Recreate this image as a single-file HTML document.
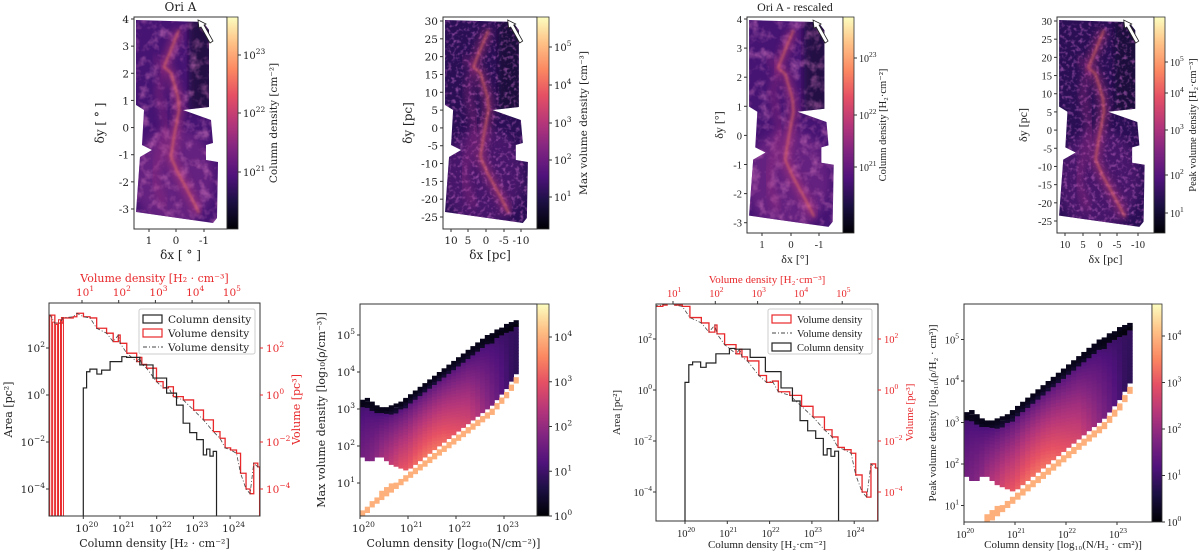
<!DOCTYPE html>
<html><head><meta charset="utf-8">
<style>
html,body{margin:0;padding:0;background:#fff;}
svg{display:block;}
.s1{font-family:"DejaVu Serif","Liberation Serif",serif;}
.s2{font-family:"Liberation Serif","DejaVu Serif",serif;}
</style></head>
<body>
<svg id="fig" width="1200" height="554" viewBox="0 0 1200 554" xmlns="http://www.w3.org/2000/svg">
<defs>
<linearGradient id="magma" x1="0" y1="1" x2="0" y2="0">
<stop offset="0" stop-color="#000004"/><stop offset="0.13" stop-color="#1c1044"/><stop offset="0.25" stop-color="#4f127b"/><stop offset="0.38" stop-color="#812581"/><stop offset="0.5" stop-color="#b5367a"/><stop offset="0.63" stop-color="#e55064"/><stop offset="0.75" stop-color="#fb8761"/><stop offset="0.88" stop-color="#fec287"/><stop offset="1" stop-color="#fcfdbf"/>
</linearGradient>
<filter id="blur1"><feGaussianBlur stdDeviation="1.2"/></filter>
<filter id="blur2"><feGaussianBlur stdDeviation="4"/></filter>
<filter id="noiseA" x="0" y="0" width="100%" height="100%"><feTurbulence type="fractalNoise" baseFrequency="0.1" numOctaves="3" seed="3"/><feColorMatrix type="matrix" values="0 0 0 0 0.62  0 0 0 0 0.17  0 0 0 0 0.49  0 0 0 2.4 -1.1"/></filter>
<filter id="noiseB" x="0" y="0" width="100%" height="100%"><feTurbulence type="fractalNoise" baseFrequency="0.25" numOctaves="2" seed="7"/><feColorMatrix type="matrix" values="0 0 0 0 0.48  0 0 0 0 0.12  0 0 0 0 0.5  0 0 0 3.0 -1.45"/></filter>
</defs>
</svg>
<script>
// ---------- data ----------
const colLogN = [20.0,20.0,20.09,20.18,20.37,20.5,20.73,21.05,21.18,21.54,21.9,22.27,22.54,22.72,22.9,23.09,23.27,23.36,23.45,23.54,23.63];
const colLogArea = [-6,0.3,0.99,1.1,0.89,1.06,1.42,1.63,1.6,1.28,0.72,0.08,-0.43,-1.2,-1.6,-1.9,-2.55,-2.3,-2.6,-2.4,-2.55];
const volLogRho = [0.1,0.13,0.26,0.4,0.48,0.76,0.86,1.04,1.22,1.4,1.67,1.85,1.99,2.04,2.22,2.49,2.58,2.63,2.76,3.03,3.21,3.35,3.49,3.76,4.04,4.31,4.58,4.76,4.9,5.05,5.21,5.32,5.47,5.58,5.68,5.79,5.84];
const volLogVol = [3.4,3.4,3.06,3.06,3.28,3.33,3.48,3.33,3.28,2.84,2.63,2.27,2.55,2.2,1.78,1.42,1.6,1.3,1.14,0.57,0.3,0.35,-0.07,-0.21,-0.64,-1.06,-1.56,-1.84,-2.25,-2.34,-2.48,-3.33,-4.0,-4.2,-2.9,-3.06,-3.06];
const spikeRho = [0.12,0.2,0.28,0.36,0.44];
const spikeVol = [3.4,3.1,3.0,3.2,3.3];
const hN =       [20.0,20.1,20.2,20.3,20.4,20.5,20.6,20.7,20.8,20.9,21.0,21.1,21.2,21.3,21.4,21.5,21.6,21.7,21.8,21.9,22.0,22.1,22.2,22.3,22.4,22.5,22.6,22.7,22.8,22.9,23.0,23.1,23.2];
const hBodyLow = [1.7,1.6,1.6,1.7,1.7,1.6,1.5,1.45,1.4,1.35,1.4,1.5,1.6,1.7,1.8,1.9,2.0,2.1,2.2,2.3,2.4,2.5,2.6,2.7,2.8,2.9,3.0,3.1,3.25,3.4,3.55,3.75,3.95];
const hBodyHigh= [3.15,3.2,3.1,3.0,2.95,2.95,3.0,3.05,3.1,3.2,3.3,3.4,3.5,3.6,3.7,3.8,3.9,4.0,4.1,4.2,4.3,4.4,4.5,4.6,4.7,4.8,4.9,4.95,5.05,5.1,5.2,5.25,5.3];
const hLineLow = [0.1,0.2,0.35,0.45,0.55,0.65,0.75,0.85,0.95,1.05,1.15,1.25,1.35,1.45,1.55,1.65,1.75,1.85,1.95,2.05,2.15,2.25,2.35,2.45,2.55,2.65,2.75,2.85,3.0,3.15,3.3,3.5,3.7];
const hPeak =    [1.6,1.7,1.8,1.9,2.1,2.3,2.5,2.7,2.9,3.0,3.1,3.2,3.25,3.3,3.3,3.3,3.25,3.2,3.1,3.0,2.9,2.8,2.7,2.5,2.3,2.1,1.9,1.7,1.5,1.3,1.1,0.9,0.8];
const cbTicks = [0,1,2,3,4];
const histTicksY = [2,0,-2,-4];
const histTicksN = [20,21,22,23,24];
const histTicksRho = [1,2,3,4,5];
const heatTicksN = [20,21,22,23];
const heatTicksRho = [1,2,3,4,5];

// ---------- helpers ----------
const NS='http://www.w3.org/2000/svg';
const svg=document.getElementById('fig');
function mk(tag,at,parent){const e=document.createElementNS(NS,tag);for(const k in at)e.setAttribute(k,at[k]);(parent||svg).appendChild(e);return e;}
function txt(x,y,s,opts,parent){
  const t=mk('text',Object.assign({x:x,y:y,'font-size':11,fill:'#222'},opts||{}),parent);
  t.textContent=s;return t;}
function pow10(x,y,e,opts,parent){
  const t=mk('text',Object.assign({x:x,y:y,'font-size':10.5,fill:'#222'},opts||{}),parent);
  const a=mk('tspan',{},t);a.textContent='10';
  const b=mk('tspan',{dy:-5,'font-size':7.5},t);b.textContent=String(e).replace('-','−');
  return t;}
const stops=[[0,[0,0,4]],[0.13,[28,16,68]],[0.25,[79,18,123]],[0.38,[129,37,129]],[0.5,[181,54,122]],[0.63,[229,80,100]],[0.75,[251,135,97]],[0.88,[254,194,135]],[1,[252,253,191]]];
function magma(f){f=Math.max(0,Math.min(1,f));for(let i=1;i<stops.length;i++){if(f<=stops[i][0]){const a=stops[i-1],b=stops[i];const u=(f-a[0])/(b[0]-a[0]);const c=a[1].map((v,j)=>Math.round(v+(b[1][j]-v)*u));return 'rgb('+c.join(',')+')';}}return 'rgb(252,253,191)';}

// ---------- maps ----------
const mapPoly=[[2,3],[69,5],[75,13],[75,90],[49,93],[77,103],[79,126],[72,128],[72,143],[84,145],[83,201],[79,206],[2,195],[6,140],[18,133],[8,128],[10,93],[2,88]];
const ridge=[[45,13],[38,30],[30,50],[37,56],[44,80],[45,93],[40,120],[37,140],[44,156],[57,180],[65,196]];
const ridge2=[[20,40],[30,50],[25,75],[32,110],[20,160],[30,190]];
function drawMap(cfg){
  const g=mk('g',{class:cfg.font});
  
  
  const sx=cfg.w/93, sy=cfg.h/212;
  const pts=mapPoly.map(p=>(cfg.x+p[0]*sx)+','+(cfg.y+p[1]*sy)).join(' ');
  const cl=mk('clipPath',{id:'clip'+cfg.id},g);mk('polygon',{points:pts},cl);
  const body=mk('polygon',{points:pts,fill:cfg.base},g);
  
  
  const inner=mk('g',{'clip-path':'url(#clip'+cfg.id+')'},g);
  mk('ellipse',{cx:cfg.x+40*sx,cy:cfg.y+160*sy,rx:40*sx,ry:50*sy,fill:cfg.glow,opacity:0.6,filter:'url(#blur2)'},inner);
  mk('rect',{x:cfg.x+55*sx,y:cfg.y,width:25*sx,height:95*sy,fill:'#150b30',opacity:0.7,filter:'url(#blur2)'},inner);
  mk('rect',{x:cfg.x,y:cfg.y,width:cfg.w,height:cfg.h,filter:cfg.noise,opacity:0.6},inner);
  const rp=ridge.map(p=>(cfg.x+p[0]*sx)+','+(cfg.y+p[1]*sy)).join(' ');
  const rp2=ridge2.map(p=>(cfg.x+p[0]*sx)+','+(cfg.y+p[1]*sy)).join(' ');
  mk('polyline',{points:rp,fill:'none',stroke:'#c8407a',"stroke-width":8,opacity:0.55,filter:'url(#blur2)'},inner);
  mk('polyline',{points:rp2,fill:'none',stroke:'#9a2e80',"stroke-width":7,opacity:0.5,filter:'url(#blur2)'},inner);
  mk('polyline',{points:rp,fill:'none',stroke:'#f37a5c',"stroke-width":1.6,opacity:0.75,filter:'url(#blur1)'},inner);
  const ax=cfg.x+64*sx, ay=cfg.y+3*sy;
  mk('path',{d:`M${ax} ${ay} l1 8 l2 -1 l9 16 l3 -2 l-9 -16 l2 -1 z`,fill:'#fff',stroke:'#222','stroke-width':0.8},g);
  mk('rect',{x:cfg.x,y:cfg.y,width:cfg.w,height:cfg.h,fill:'none',stroke:'#333','stroke-width':1},g);
  const cb=mk('rect',{x:cfg.x+cfg.w,y:cfg.y,width:cfg.cbw,height:cfg.h,fill:'url(#magma)',stroke:'#333','stroke-width':0.8},g);
  
  
  cfg.cbT.forEach((t,i)=>{const yy=cfg.cbY[i];mk('line',{x1:cfg.x+cfg.w+cfg.cbw,x2:cfg.x+cfg.w+cfg.cbw+3,y1:yy,y2:yy,stroke:'#333'},g);
    pow10(cfg.x+cfg.w+cfg.cbw+5,yy+4,t,{'font-size':10},g);});
  const cbl=txt(0,0,cfg.cbLabel,{'font-size':10.5,transform:`translate(${cfg.cbLx},${cfg.y+cfg.h/2}) rotate(-90)`,'text-anchor':'middle'},g);
  
  
  cfg.yT.forEach((v,i)=>{const yy=cfg.yP[i];mk('line',{x1:cfg.x-3,x2:cfg.x,y1:yy,y2:yy,stroke:'#333'},g);txt(cfg.x-5,yy+4,v,{'text-anchor':'end','font-size':10.5},g);});
  cfg.xT.forEach((v,i)=>{const xx=cfg.xP[i];mk('line',{x1:xx,x2:xx,y1:cfg.y+cfg.h,y2:cfg.y+cfg.h+3,stroke:'#333'},g);txt(xx,cfg.y+cfg.h+15,v,{'text-anchor':'middle','font-size':10.5},g);});
  const yl=txt(0,0,cfg.yLabel,{'font-size':12,transform:`translate(${cfg.yLx},${cfg.y+cfg.h/2}) rotate(-90)`,'text-anchor':'middle'},g);
  
  
  const xl=txt(cfg.x+cfg.w/2,cfg.y+cfg.h+30,cfg.xLabel,{'font-size':12,'text-anchor':'middle'},g);
  
  
  if(cfg.title){const tt=txt(cfg.x+cfg.w/2,11,cfg.title,{'font-size':12,'text-anchor':'middle'},g);
    
    }
}
const degT=['4','3','2','1','0','-1','-2','-3'], degV=[4,3,2,1,0,-1,-2,-3];
const pcT=['30','25','20','15','10','5','0','-5','-10','-15','-20','-25'], pcV=[30,25,20,15,10,5,0,-5,-10,-15,-20,-25];
drawMap({id:1,name:'column-density-map',font:'s1',x:134,y:17,w:93,h:212,cbw:11,base:'#461473',glow:'#7a2c88',noise:'url(#noiseA)',
  cbT:[23,22,21],cbY:[55,113,172],cbLabel:'Column density [cm⁻²]',cbLx:277,
  yT:degT,yP:degV.map(v=>19+(4-v)*27.14),xT:['1','0','-1'],xP:[149,176,204],
  yLabel:'δy [ ° ]',yLx:104,xLabel:'δx [ ° ]',title:'Ori A'});
drawMap({id:2,name:'max-volume-density-map',font:'s1',x:443,y:17,w:94,h:212,cbw:12,base:'#2a0f55',glow:'#5a1e78',noise:'url(#noiseB)',
  cbT:[5,4,3,2,1],cbY:[47,85,123,160,197],cbLabel:'Max volume density [cm⁻³]',cbLx:587,
  yT:pcT,yP:pcV.map(v=>21+(30-v)*196/55),xT:['10','5','0','-5','-10'],xP:[451,468,486,504,521],
  yLabel:'δy [pc]',yLx:412,xLabel:'δx [pc]'});
drawMap({id:3,name:'rescaled-column-density-map',font:'s2',x:747,y:17,w:96,h:216,cbw:11,base:'#461473',glow:'#7a2c88',noise:'url(#noiseA)',
  cbT:[23,22,21],cbY:[58,115,167],cbLabel:'Column density [H₂·cm⁻²]',cbLx:886,
  yT:degT,yP:degV.map(v=>19+(4-v)*29.1),xT:['1','0','-1'],xP:[762,791,819],
  yLabel:'δy [°]',yLx:723,xLabel:'δx [°]',title:'Ori A - rescaled'});
drawMap({id:4,name:'peak-volume-density-map',font:'s2',x:1057,y:17,w:97,h:216,cbw:11,base:'#2a0f55',glow:'#5a1e78',noise:'url(#noiseB)',
  cbT:[5,4,3,2,1],cbY:[62,93,130,175,213],cbLabel:'Peak volume density [H₂·cm⁻³]',cbLx:1196,
  yT:pcT,yP:pcV.map(v=>21+(30-v)*200/55),xT:['10','5','0','-5','-10'],xP:[1065,1083,1100,1117,1138],
  yLabel:'δy [pc]',yLx:1027,xLabel:'δx [pc]'});

// ---------- histogram panels ----------
function stepPath(xs,ys,fx,fy){let d='';for(let i=0;i<xs.length;i++){const X=fx(xs[i]),Y=fy(ys[i]);if(i===0)d+=`M${X} ${Y}`;else{d+=` H${X} V${Y}`;}}return d;}
function drawHist(c){
  const g=mk('g',{class:c.font});
  
  
  const cl=mk('clipPath',{id:'hc'+c.id},g);mk('rect',{x:c.x0,y:c.y0,width:c.x1-c.x0,height:c.y1-c.y0},cl);
  const xN=l=>c.nx0+c.ns*(l-20), xR=l=>c.rx0+c.ns*(l-1), yA=l=>c.ay0-c.as*l;
  const inner=mk('g',{'clip-path':`url(#hc${c.id})`},g);
  spikeRho.forEach((r,i)=>{const s=mk('path',{d:`M${xR(r)} ${c.y1} V${yA(spikeVol[i])} H${xR(r)+2} V${c.y1}`,fill:'none',stroke:'#e8282b','stroke-width':1},inner);
    
    });
  const red=mk('path',{d:stepPath(volLogRho,volLogVol,xR,yA)+` V${c.y1+5}`,fill:'none',stroke:'#e8282b','stroke-width':1.3},inner);
  
  
  const dd=mk('path',{d:'M'+volLogRho.map((r,i)=>xR(r)+' '+yA(volLogVol[i])).join(' L'),fill:'none',stroke:'#444','stroke-width':0.8,'stroke-dasharray':'4 2 1 2'},inner);
  
  
  const blk=mk('path',{d:stepPath(colLogN,colLogArea,xN,yA)+` V${c.y1+5}`,fill:'none',stroke:'#222','stroke-width':1.2},inner);
  
  
  mk('rect',{x:c.x0,y:c.y0,width:c.x1-c.x0,height:c.y1-c.y0,fill:'none',stroke:'#333','stroke-width':1},g);
  histTicksY.forEach(v=>{const y=yA(v);mk('line',{x1:c.x0-3,x2:c.x0,y1:y,y2:y,stroke:'#333'},g);pow10(c.x0-4,y+4,v,{'text-anchor':'end'},g);
    mk('line',{x1:c.x1,x2:c.x1+3,y1:y,y2:y,stroke:'#e8282b'},g);pow10(c.x1+6,y+4,v,{fill:'#e8282b'},g);});
  histTicksN.forEach(v=>{const x=xN(v);mk('line',{x1:x,x2:x,y1:c.y1,y2:c.y1+3,stroke:'#333'},g);pow10(x-8,c.y1+16,v,{},g);});
  histTicksRho.forEach(v=>{const x=xR(v);mk('line',{x1:x,x2:x,y1:c.y0-3,y2:c.y0,stroke:'#333'},g);pow10(x-6,c.y0-7,v,{fill:'#e8282b'},g);});
  const xl=txt((c.x0+c.x1)/2,c.y1+c.xlOff,c.xLabel,{'font-size':11,'text-anchor':'middle'},g);
  
  
  const tl=txt((c.x0+c.x1)/2,c.y0-21,c.tLabel,{'font-size':11,'text-anchor':'middle',fill:'#e8282b'},g);
  
  
  const yl=txt(0,0,'Area [pc²]',{'font-size':11,transform:`translate(${c.yLx},${(c.y0+c.y1)/2}) rotate(-90)`,'text-anchor':'middle'},g);
  
  
  const yr=txt(0,0,'Volume [pc³]',{'font-size':11,fill:'#e8282b',transform:`translate(${c.yRx},${(c.y0+c.y1)/2}) rotate(-90)`,'text-anchor':'middle'},g);
  
  
  const lg=mk('g',{},g);
  
  
  mk('rect',{x:c.lx,y:c.ly,width:c.lw,height:45,fill:'#fff',stroke:'#ccc',rx:2},lg);
  c.leg.forEach((e,i)=>{const yy=c.ly+10+i*14;
    const ent=mk('g',{},lg);
    
    
    if(e[1]==='dd')mk('line',{x1:c.lx+4,x2:c.lx+24,y1:yy,y2:yy,stroke:'#444','stroke-dasharray':'4 2 1 2'},ent);
    else mk('rect',{x:c.lx+4,y:yy-4,width:19,height:8,fill:'none',stroke:e[1],'stroke-width':1.2},ent);
    txt(c.lx+29,yy+4,e[0],{'font-size':10.5},ent);});
}
drawHist({id:1,name:'histogram-ori-a',font:'s1',x0:49,x1:260,y0:303,y1:516,nx0:83.3,rx0:82,ns:36.7,ay0:395,as:23.5,xlOff:31,
  xLabel:'Column density [H₂ · cm⁻²]',tLabel:'Volume density [H₂ · cm⁻³]',yLx:12,yRx:300,
  lx:139,ly:309,lw:116,leg:[['Column density','#222'],['Volume density','#e8282b'],['Volume density','dd']]});
drawHist({id:3,name:'histogram-ori-a-rescaled',font:'s2',x0:656,x1:878,y0:304,y1:521,nx0:685,rx0:673,ns:42.3,ay0:390,as:25.5,xlOff:27,
  xLabel:'Column density [H₂·cm⁻²]',tLabel:'Volume density [H₂·cm⁻³]',yLx:620,yRx:913,
  lx:768,ly:309,lw:104,leg:[['Volume density','#e8282b'],['Volume density','dd'],['Column density','#222']]});

// ---------- 2D histograms ----------
function drawHeat(c){
  const g=mk('g',{class:c.font});
  
  
  const xN=l=>c.x0+c.ns*(l-20), yR=l=>c.ry0-c.rs*(l-2);
  const cl=mk('clipPath',{id:'cc'+c.id},g);mk('rect',{x:c.x0,y:c.y0,width:c.x1-c.x0,height:c.y1-c.y0},cl);
  const inner=mk('g',{'clip-path':`url(#cc${c.id})`},g);
  const dr=0.08, dn=0.1;
  hN.forEach((n,i)=>{
    const lo=hBodyLow[i],hi=hBodyHigh[i],pk=hPeak[i];
    for(let r=lo;r<hi;r+=dr){
      const f=(r-lo)/(hi-lo);
      const lc=0.9+(pk-0.9)*Math.pow(1-f,0.7)-(f>0.9?0.8:0);
      const cell=mk('rect',{x:xN(n),y:yR(r+dr),width:c.ns*dn+0.4,height:c.rs*dr+0.4,fill:magma(lc/4.7)},inner);
      
      
    }
    const top=mk('rect',{x:xN(n),y:yR(hi+0.1),width:c.ns*dn+0.4,height:c.rs*0.1,fill:'#08051a'},inner);
    
    
    const ll=hLineLow[i];
    for(let r=ll;r<Math.min(lo,ll+0.16);r+=dr){
      const cell=mk('rect',{x:xN(n),y:yR(r+dr),width:c.ns*dn+0.4,height:c.rs*dr+0.4,fill:magma(0.84)},inner);
      
      
    }
  });
  mk('rect',{x:c.x0,y:c.y0,width:c.x1-c.x0,height:c.y1-c.y0,fill:'none',stroke:'#333','stroke-width':1},g);
  const cb=mk('rect',{x:c.x1,y:c.y0,width:c.cbw,height:c.y1-c.y0,fill:'url(#magma)',stroke:'#333','stroke-width':0.8},g);
  
  
  cbTicks.forEach(t=>{const y=c.y1-(c.y1-c.cbTop)*t/4;mk('line',{x1:c.x1+c.cbw,x2:c.x1+c.cbw+3,y1:y,y2:y,stroke:'#333'},g);pow10(c.x1+c.cbw+5,y+4,t,{},g);});
  heatTicksRho.forEach(v=>{const y=yR(v);mk('line',{x1:c.x0-3,x2:c.x0,y1:y,y2:y,stroke:'#333'},g);pow10(c.x0-5,y+4,v,{'text-anchor':'end'},g);});
  heatTicksN.forEach(v=>{const x=xN(v);mk('line',{x1:x,x2:x,y1:c.y1,y2:c.y1+3,stroke:'#333'},g);pow10(x-8,c.y1+16,v,{},g);});
  const xl=txt((c.x0+c.x1)/2+5,c.y1+c.xlOff,c.xLabel,{'font-size':11,'text-anchor':'middle'},g);
  
  
  const yl=txt(0,0,c.yLabel,{'font-size':11,transform:`translate(${c.yLx},${(c.y0+c.y1)/2}) rotate(-90)`,'text-anchor':'middle'},g);
  
  
}
drawHeat({id:2,name:'max-density-vs-column-density',font:'s1',x0:360,x1:537,y0:304,y1:516,ns:48,ry0:446,rs:37,cbw:12,cbTop:337,xlOff:31,
  xLabel:'Column density [log₁₀(N/cm⁻²)]',yLabel:'Max volume density [log₁₀(ρ/cm⁻³)]',yLx:325});
drawHeat({id:4,name:'peak-density-vs-column-density',font:'s2',x0:964,x1:1152,y0:304,y1:522,ns:51,ry0:464,rs:41.5,cbw:10,cbTop:336,xlOff:26,
  xLabel:'Column density [log₁₀(N/H₂ · cm²)]',yLabel:'Peak volume density [log₁₀(ρ/H₂ · cm³)]',yLx:936});
</script>
</body></html>
